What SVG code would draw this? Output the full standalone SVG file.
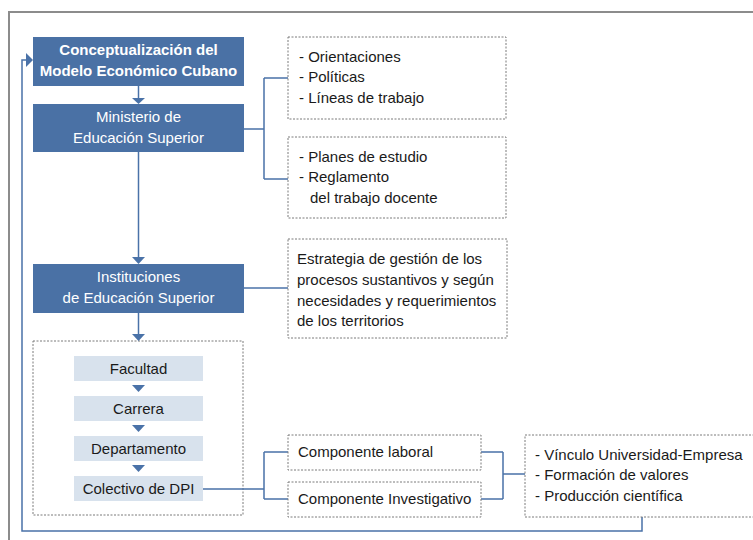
<svg xmlns="http://www.w3.org/2000/svg" width="753" height="540" viewBox="0 0 753 540">
<style>
.frame{fill:none;stroke:#8c8c8c;stroke-width:2}
.main{fill:#4a71a5}
.sub{fill:#d8e2ed}
.dash{fill:#fff;stroke:#7a7a7a;stroke-width:1;stroke-dasharray:2,1.5}
.open{fill:none}
.ln{fill:none;stroke:#4a72a8;stroke-width:1.5}
.ah{fill:#4a72a8}
text{font-family:"Liberation Sans",Arial,sans-serif;font-size:15px;fill:#1a1a1a}
.w{fill:#fff;text-anchor:middle}
.b{font-weight:bold}
.c{text-anchor:middle}
</style>
<rect class="frame" x="9" y="12" width="770" height="560"/>
<g id="estructura">
<rect class="dash open" x="33" y="341" width="210" height="174"/>
<g id="facultad"><rect class="sub" x="74" y="356" width="129" height="25"/><text class="c" x="138.5" y="374">Facultad</text></g>
<g id="carrera"><rect class="sub" x="74" y="396" width="129" height="25"/><text class="c" x="138.5" y="414">Carrera</text></g>
<g id="departamento"><rect class="sub" x="74" y="436" width="129" height="25"/><text class="c" x="138.5" y="454">Departamento</text></g>
<g id="colectivo"><rect class="sub" x="74" y="476" width="129" height="25"/><text class="c" x="138.5" y="494">Colectivo de DPI</text></g>
</g>
<g id="connectors">
<path class="ln" d="M138.5,86V99"/>
<polygon class="ah" points="132,98 145,98 138.5,104"/>
<path class="ln" d="M138.5,152V258"/>
<polygon class="ah" points="132,257 145,257 138.5,264"/>
<path class="ln" d="M138.5,313V335"/>
<polygon class="ah" points="132,334 145,334 138.5,341"/>
<path class="ln" d="M244,129H264M264,78V179M264,78H288M264,179H288"/>
<path class="ln" d="M244,288H288"/>
<path class="ln" d="M203,489H264M264,452V499M264,452H288M264,499H288"/>
<path class="ln" d="M481,452H503M481,499H503M503,452V499M503,474H525"/>
<path class="ln" d="M642,517V531H22V60H27"/>
<polygon class="ah" points="26,53 33,60 26,67"/>
<polygon class="ah" points="132,385 145,385 138.5,392"/>
<polygon class="ah" points="132,425 145,425 138.5,432"/>
<polygon class="ah" points="132,465 145,465 138.5,472"/>
</g>
<g id="conceptualizacion">
<rect class="main" x="33" y="37" width="211" height="49"/>
<text class="w b" x="138.5" y="55">Conceptualización del</text>
<text class="w b" x="138.5" y="76">Modelo Económico Cubano</text>
</g>
<g id="ministerio">
<rect class="main" x="33" y="104" width="211" height="48"/>
<text class="w" x="138.5" y="122">Ministerio de</text>
<text class="w" x="138.5" y="143">Educación Superior</text>
</g>
<g id="orientaciones">
<rect class="dash" x="288" y="37" width="218" height="82"/>
<text x="299" y="62">- Orientaciones</text>
<text x="299" y="82">- Políticas</text>
<text x="299" y="103">- Líneas de trabajo</text>
</g>
<g id="planes">
<rect class="dash" x="288" y="137" width="218" height="81"/>
<text x="299" y="162">- Planes de estudio</text>
<text x="299" y="182">- Reglamento</text>
<text x="310" y="203">del trabajo docente</text>
</g>
<g id="instituciones">
<rect class="main" x="33" y="264" width="211" height="49"/>
<text class="w" x="138.5" y="282">Instituciones</text>
<text class="w" x="138.5" y="303">de Educación Superior</text>
</g>
<g id="estrategia">
<rect class="dash" x="288" y="239" width="219" height="99"/>
<text x="297" y="264">Estrategia de gestión de los</text>
<text x="297" y="285">procesos sustantivos y según</text>
<text x="297" y="306">necesidades y requerimientos</text>
<text x="297" y="326">de los territorios</text>
</g>
<g id="laboral">
<rect class="dash" x="288" y="435" width="193" height="35"/>
<text x="298" y="457">Componente laboral</text>
</g>
<g id="investigativo">
<rect class="dash" x="288" y="482" width="193" height="35"/>
<text x="298" y="504">Componente Investigativo</text>
</g>
<g id="vinculo">
<rect class="dash" x="525" y="435" width="240" height="82"/>
<text x="535" y="460">- Vínculo Universidad-Empresa</text>
<text x="535" y="480">- Formación de valores</text>
<text x="535" y="501">- Producción científica</text>
</g>
</svg>
